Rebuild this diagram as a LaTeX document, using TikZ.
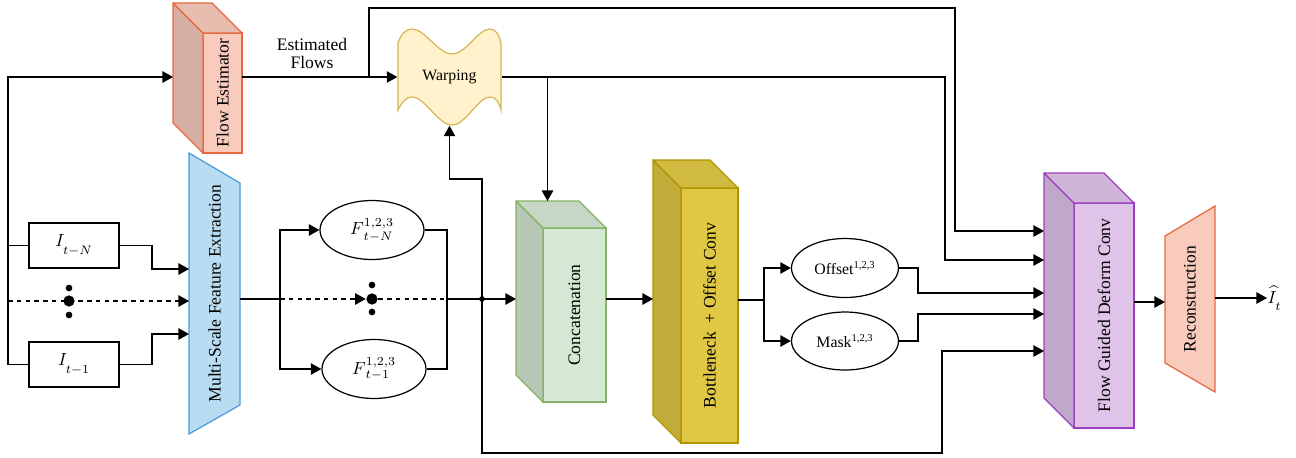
\documentclass[tikz,border=0pt]{standalone}
\usepackage{fontspec}
\setmainfont{Liberation Serif}
\usetikzlibrary{arrows.meta,calc,shapes.geometric}
\definecolor{feF}{HTML}{F8CBBD}\definecolor{feS}{HTML}{E8693E}
\definecolor{msF}{HTML}{B8DDF3}\definecolor{msS}{HTML}{4A9BDC}
\definecolor{wpF}{HTML}{FFF2CC}\definecolor{wpS}{HTML}{D6B656}
\definecolor{ccF}{HTML}{D5E8D4}\definecolor{ccS}{HTML}{82B366}
\definecolor{bnF}{HTML}{E0C844}\definecolor{bnS}{HTML}{B09500}
\definecolor{fgF}{HTML}{DFC3E8}\definecolor{fgS}{HTML}{9C3FBF}
\definecolor{rcF}{HTML}{F8CBBD}\definecolor{rcS}{HTML}{E8693E}
\newcommand\mycube[7]{%
  \node[draw=#7S, fill=#7F, line width=0.7pt, minimum width={#4*0.02cm}, minimum height={#5*0.02cm}, inner sep=0pt, outer sep=0pt] (#1) at (#2,#3) {};
  \filldraw[draw=#7S, fill=#7F!86!black, line width=0.7pt, line join=round] (#1.north west) -- ++(-#6,-#6) -- ([shift={(-#6,-#6)}]#1.south west) -- (#1.south west) -- cycle;
  \filldraw[draw=#7S, fill=#7F!93!black, line width=0.7pt, line join=round] (#1.north west) -- ++(-#6,-#6) -- ([shift={(-#6,-#6)}]#1.north east) -- (#1.north east) -- cycle;
  \coordinate (#1-b) at ($(#1.west)+(-#6,0)$);
  \coordinate (#1-bn) at ($(#1.north)+(-#6,-#6)$);
}
\begin{document}
\begin{tikzpicture}[x=0.02cm, y=-0.02cm, line width=0.8pt,
  arr/.style={-{Triangle[length=6pt,width=6.5pt]}},
  txt/.style={font=\fontsize{10}{10.5}\selectfont, inner sep=0pt},
  stxt/.style={font=\fontsize{9}{10}\selectfont, inner sep=0pt},
  vtxt/.style={txt, rotate=90},
  ell/.style={ellipse, draw, line width=0.7pt, inner sep=0pt, minimum width=2.12cm, minimum height=1.18cm},
  ibox/.style={draw, line width=0.7pt, inner sep=0pt, minimum width=1.8cm, minimum height=0.9cm},
  ghost/.style={inner sep=0pt, outer sep=0pt},
  dsh/.style={dash pattern=on 2.6pt off 2.4pt}]
\useasboundingbox (0,0) rectangle (1296,457);

% ---------- Flow estimator ----------
\mycube{fe}{222.5}{93}{39}{120}{30}{fe}
\node[vtxt] (fet) at (fe) {Flow Estimator};

% ---------- Multi-scale feature extraction ----------
\filldraw[draw=msS, fill=msF, line width=0.7pt] (189,153) -- (240,183) -- (240,405) -- (189,434) -- cycle;
\node[ghost, minimum width=1.02cm, minimum height=5.62cm] (msfe) at (214.5,293.5) {};
\node[vtxt] (msfet) at (msfe) {Multi-Scale Feature Extraction};

% ---------- Warping ----------
\filldraw[draw=wpS, fill=wpF, line width=0.7pt]
  (398,43) .. controls (401,34) and (406,29) .. (412,29)
  .. controls (425,29) and (438,54) .. (452,54)
  .. controls (466,54) and (478,29) .. (490,29)
  .. controls (496,29) and (499,35) .. (501,43)
  -- (501,110)
  .. controls (499,102) and (496,97) .. (490,97)
  .. controls (478,97) and (466,125) .. (452,125)
  .. controls (438,125) and (425,97) .. (412,97)
  .. controls (406,97) and (401,103) .. (398,110) -- cycle;
\node[stxt, minimum width=2.06cm, minimum height=1.92cm] (warp) at (449.5,77) {Warping};

% ---------- Inputs ----------
\node[ibox] (itn) at (74,245.5) {$I_{\lower3pt\hbox{$\scriptstyle t-N$}}$};
\node[ibox] (it1) at (74,364.5) {$I_{\lower3pt\hbox{$\scriptstyle t-1$}}$};

\coordinate (lt) at (8,77);
\coordinate (ld) at (8,301);
\coordinate (m1) at (189,269);
\coordinate (m2) at (189,301);
\coordinate (m3) at (189,334);

\draw[arr] (it1.west) -| (lt) -- (fe-b |- lt);
\draw (itn.west) -- (itn.west -| lt);
\draw[arr] (itn.east) -| (152,269) -- (m1);
\draw[arr] (it1.east) -| (152,334) -- (m3);
\draw[arr, dsh] (ld) -- (m2);
\fill (69,288) circle[radius=1.9pt];
\fill (69,301) circle[radius=3.2pt];
\fill (69,315) circle[radius=1.9pt];

% ---------- Flows ----------
\draw[arr] (fe.east |- lt) -- (warp.west);
\node[txt, align=center] (efl) at (312,53.5) {Estimated\\Flows};
\coordinate (efj) at (369,77);
\coordinate (f1) at (1044,231);
\coordinate (f2) at (1044,260);
\coordinate (f3) at (1044,293);
\coordinate (f4) at (1044,314);
\coordinate (f5) at (1044,351);
\draw[arr] (efj) |- (955,8) |- (f1);

% ---------- cubes ----------
\mycube{cc}{574.5}{315}{63}{174}{27}{cc}
\node[vtxt] (cct) at (cc) {Concatenation};
\mycube{bn}{709.5}{315.5}{57}{255}{28}{bn}
\node[vtxt] (bnt) at (bn) {Bottleneck \ + Offset Conv};
\mycube{fg}{1104}{315.5}{60}{225}{30}{fg}
\node[vtxt] (fgt) at (fg) {Flow Guided Deform Conv};

\draw[arr] (warp.east) -- (945,77) |- (f2);
\draw[arr] (warp.east -| cc-bn) -- (cc-bn);

% ---------- features ----------
\node[ell, minimum width=2.08cm] (ftn) at (372,230) {$F^{1,2,3}_{\,t-N}$};
\node[ell, minimum width=2.08cm] (ft1) at (374,369) {$F^{1,2,3}_{\,t-1}$};
\coordinate (mo) at (240,299);
\coordinate (fb) at (280,299);
\coordinate (fm) at (447,299);
\coordinate (jn) at (482,299);
\draw (mo) -- (fb);
\draw[arr] (fb) |- (ftn.west);
\draw[arr] (fb) |- (ft1.west);
\node[circle, fill, inner sep=0pt, minimum size=6.4pt] (fd) at (372,299) {};
\fill (372,285) circle[radius=1.9pt];
\fill (372,312) circle[radius=1.9pt];
\draw[arr, dsh] (fb) -- (fd.west);
\draw[dsh] (fd) -- (fm);
\draw (ftn.east) -| (fm);
\draw (ft1.east) -| (fm);
\draw[arr] (fm) -- (cc-b |- fm);
\fill (jn) circle[radius=1.6pt];
\draw[arr] (jn) -- (482,179) -| (warp.south);
\draw[arr] (jn) |- (942,453) |- (f5);

% ---------- bottleneck outputs ----------
\draw[arr] (cc.east |- jn) -- (bn-b |- jn);
\coordinate (bj) at (764,300);
\node[ell, stxt, draw, line width=0.7pt, minimum width=2.14cm, minimum height=1.18cm] (off) at (845,268) {Offset\textsuperscript{1,2,3}};
\node[ell, stxt, draw, line width=0.7pt, minimum width=2.14cm, minimum height=1.16cm] (mask) at (845,341) {Mask\textsuperscript{1,2,3}};
\draw (bn.east |- bj) -- (bj);
\draw[arr] (bj) |- (off.west);
\draw[arr] (bj) |- (mask.west);
\draw[arr] (off.east) -| (918,293) -- (f3);
\draw[arr] (mask.east) -| (918,314) -- (f4);

% ---------- reconstruction ----------
\filldraw[draw=rcS, fill=rcF, line width=0.7pt] (1165,236) -- (1215,206) -- (1215,392) -- (1165,363) -- cycle;
\node[ghost, minimum width=1cm, minimum height=3.72cm] (rc) at (1190,299) {};
\node[vtxt] (rct) at (rc) {Reconstruction};
\coordinate (ri) at (1165,302);
\draw[arr] (fg.east |- ri) -- (ri);
\node[inner sep=0pt, anchor=west] (ih) at (1267,298) {$\widehat{I}_{\lower2.5pt\hbox{$\scriptstyle t$}}$};
\draw[arr] (rc.east |- ih.west) -- (ih.west);
\end{tikzpicture}
\end{document}
